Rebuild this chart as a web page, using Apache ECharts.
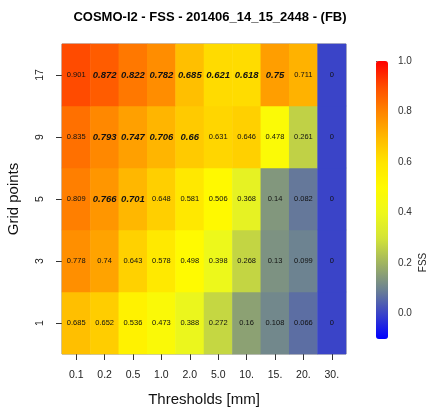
<!DOCTYPE html>
<html>
<head>
<meta charset="utf-8">
<script src="https://cdn.jsdelivr.net/npm/echarts@6/dist/echarts.min.js"></script>
<style>
  html, body { margin: 0; padding: 0; background: #fff; }
  #main { width: 427px; height: 408px; }
</style>
</head>
<body>
<div id="main"></div>
<script>
// thresholds (x) and grid points (y, bottom to top)
const thresholds = ['0.1', '0.2', '0.5', '1.0', '2.0', '5.0', '10.', '15.', '20.', '30.']
const gridPoints = ['1', '3', '5', '9', '17']

// FSS values, one row per grid point size
const fss1 = [0.685, 0.652, 0.536, 0.473, 0.388, 0.272, 0.16, 0.108, 0.066, 0]
const fss3 = [0.778, 0.74, 0.643, 0.578, 0.498, 0.398, 0.268, 0.13, 0.099, 0]
const fss5 = [0.809, 0.766, 0.701, 0.648, 0.581, 0.506, 0.368, 0.14, 0.082, 0]
const fss9 = [0.835, 0.793, 0.747, 0.706, 0.66, 0.631, 0.646, 0.478, 0.261, 0]
const fss17 = [0.901, 0.872, 0.822, 0.782, 0.685, 0.621, 0.618, 0.75, 0.711, 0]

// cells drawn in bold italic (useful scale)
const bold1 = [0, 0, 0, 0, 0, 0, 0, 0, 0, 0]
const bold3 = [0, 0, 0, 0, 0, 0, 0, 0, 0, 0]
const bold5 = [0, 1, 1, 0, 0, 0, 0, 0, 0, 0]
const bold9 = [0, 1, 1, 1, 1, 0, 0, 0, 0, 0]
const bold17 = [0, 1, 1, 1, 1, 1, 1, 1, 0, 0]

const colorTicks = [0, 0.2, 0.4, 0.6, 0.8, 1.0]

const rows = [fss1, fss3, fss5, fss9, fss17]
const boldRows = [bold1, bold3, bold5, bold9, bold17]
const data = []
rows.forEach((row, yi) => {
  row.forEach((v, xi) => {
    data.push({ value: [xi, yi, v], bold: boldRows[yi][xi] === 1 })
  })
})

const myChart = echarts.init(document.getElementById('main'))
const font = 'Liberation Sans, Arial, sans-serif'

const option = {
  backgroundColor: '#fff',
  animation: false,
  title: {
    text: 'COSMO-I2 - FSS - 201406_14_15_2448 - (FB)',
    left: 205,
    textAlign: 'center',
    top: 6,
    textStyle: { fontFamily: font, fontSize: 13, fontWeight: 'bold', color: '#000' }
  },
  grid: [
    { left: 62, top: 44, width: 284, height: 310, outerBoundsMode: 'none', show: true, borderColor: '#888', borderWidth: 1, backgroundColor: 'transparent' },
    { left: 376, top: 61, width: 12, height: 278, outerBoundsMode: 'none', show: false }
  ],
  xAxis: [
    {
      type: 'category',
      gridIndex: 0,
      data: thresholds,
      name: 'Thresholds [mm]',
      nameLocation: 'middle',
      nameGap: 38,
      nameTextStyle: { fontFamily: font, fontSize: 15, color: '#111' },
      axisLine: { show: false },
      axisTick: { show: true, alignWithLabel: true, length: 6, lineStyle: { color: '#333' } },
      axisLabel: { fontFamily: font, fontSize: 10.5, color: '#222', margin: 16 },
      splitLine: { show: false }
    },
    { type: 'value', gridIndex: 1, show: false }
  ],
  yAxis: [
    {
      type: 'category',
      gridIndex: 0,
      data: gridPoints,
      name: 'Grid points',
      nameLocation: 'middle',
      nameGap: 41,
      nameRotate: 90,
      nameTextStyle: { fontFamily: font, fontSize: 15, color: '#111' },
      axisLine: { show: false },
      axisTick: { show: true, alignWithLabel: true, length: 6, lineStyle: { color: '#333' } },
      axisLabel: { fontFamily: font, fontSize: 10.5, color: '#222', rotate: 90, margin: 16 },
      splitLine: { show: false }
    },
    {
      type: 'value',
      gridIndex: 1,
      position: 'right',
      min: -0.1,
      max: 1.0,
      name: 'FSS',
      nameLocation: 'middle',
      nameGap: 30,
      nameRotate: 90,
      nameTextStyle: { fontFamily: font, fontSize: 10, color: '#222', padding: [0, 0, 0, -125] },
      axisLine: { show: false },
      axisTick: { show: true, length: 6, lineStyle: { color: '#555' }, customValues: colorTicks },
      axisLabel: { fontFamily: font, fontSize: 10, color: '#333', margin: 10, customValues: colorTicks, formatter: v => v.toFixed(1) },
      splitLine: { show: false }
    }
  ],
  visualMap: {
    type: 'continuous',
    min: -0.1,
    max: 1.0,
    calculable: false,
    seriesIndex: 0,
    orient: 'vertical',
    left: 376,
    top: 61,
    itemWidth: 12,
    itemHeight: 278,
    padding: 0,
    text: ['', ''],
    showLabel: false,
    inRange: {
      color: ['#0000FF', '#3A44C8', '#6E8490', '#A0B460', '#D4E436', '#EEF81A',
        '#FFFA00', '#FFE400', '#FFB800', '#FF8400', '#FF4C00', '#FF0000']
    }
  },
  series: [
    {
      type: 'heatmap',
      xAxisIndex: 0,
      yAxisIndex: 0,
      data: data,
      label: {
        show: true,
        formatter: p => p.data.bold ? '{b|' + p.value[2] + '}' : '{n|' + p.value[2] + '}',
        rich: {
          n: { fontFamily: font, fontSize: 7.5, color: '#111' },
          b: { fontFamily: font, fontSize: 9.5, fontWeight: 'bold', fontStyle: 'italic', color: '#111' }
        }
      },
      itemStyle: { borderWidth: 0 },
      emphasis: { disabled: true }
    }
  ]
}
myChart.setOption(option)
</script>
</body>
</html>
